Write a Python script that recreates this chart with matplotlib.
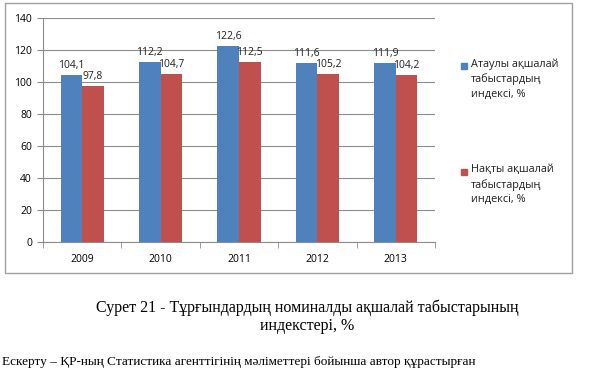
import numpy as np
import matplotlib
matplotlib.use('Agg')
import matplotlib.pyplot as plt
from matplotlib.patches import Rectangle

years = ['2009', '2010', '2011', '2012', '2013']
nominal = [104.1, 112.2, 122.6, 111.6, 111.9]
real = [97.8, 104.7, 112.5, 105.2, 104.2]
nominal_label = 'Атаулы ақшалай\nтабыстардың\nиндексі, %'
real_label = 'Нақты ақшалай\nтабыстардың\nиндексі, %'
caption = 'Сурет 21 - Тұрғындардың номиналды ақшалай табыстарының\nиндекстері, %'
note = 'Ескерту – ҚР-ның Статистика агенттігінің мәліметтері бойынша автор құрастырған'

blue = '#4F81BD'
red = '#C0504D'
grey = '#8C8C8C'
W, H = 614, 374

plt.rcParams['font.family'] = ['Open Sans', 'DejaVu Sans']
fig = plt.figure(figsize=(W / 100, H / 100), dpi=100)
fig.patch.set_facecolor('white')

# chart frame
fig.add_artist(Rectangle((5 / W, 1 - 273 / H), 567 / W, 270 / H, transform=fig.transFigure,
                         fill=False, edgecolor='#A0A0A0', linewidth=1.0))

ax = fig.add_axes([43 / W, 1 - 242 / H, 392 / W, 224 / H])
x = np.arange(len(years))
bw = 0.275
b1 = ax.bar(x - bw / 2, nominal, bw, color=blue, zorder=3)
b2 = ax.bar(x + bw / 2, real, bw, color=red, zorder=3)
for bars, vals in ((b1, nominal), (b2, real)):
    for b, v in zip(bars, vals):
        ax.text(b.get_x() + b.get_width() / 2, v + 2.5, f'{v:.1f}'.replace('.', ','),
                ha='center', va='bottom', fontsize=7.5, color='#202020', zorder=4)

ax.set_xlim(-0.5, len(years) - 0.5)
ax.set_ylim(0, 140)
ax.set_yticks(range(0, 141, 20))
ax.set_xticks(x)
ax.set_xticklabels(years)
ax.set_xticks(np.arange(-0.5, len(years), 1), minor=True)
ax.tick_params(axis='x', which='major', length=0, pad=9, labelsize=7.5)
ax.tick_params(axis='x', which='minor', length=4, color=grey)
ax.tick_params(axis='y', length=4, color=grey, labelsize=7.5, pad=4)
ax.grid(axis='y', color=grey, linewidth=0.8, zorder=0)
for s in ('top', 'right'):
    ax.spines[s].set_visible(False)
for s in ('left', 'bottom'):
    ax.spines[s].set_color(grey)

# legend, drawn by hand so the marker sits at the first text line
for col, lab, ytop in ((blue, nominal_label, 58), (red, real_label, 164)):
    fig.add_artist(Rectangle((461 / W, 1 - (ytop + 11) / H), 6 / W, 6 / H,
                             transform=fig.transFigure, color=col))
    fig.text(471 / W, 1 - ytop / H, lab, ha='left', va='top', fontsize=7.8,
             color='#202020', linespacing=1.45)

fig.text(0.5, 1 - 299 / H, caption, ha='center', va='top', fontsize=11.5,
         family=['Liberation Serif', 'DejaVu Serif'], linespacing=1.2)
fig.text(2 / W, 1 - 362 / H, note, ha='left', va='center', fontsize=9.5,
         family=['Liberation Serif', 'DejaVu Serif'])

fig.savefig('out.png', dpi=100)
